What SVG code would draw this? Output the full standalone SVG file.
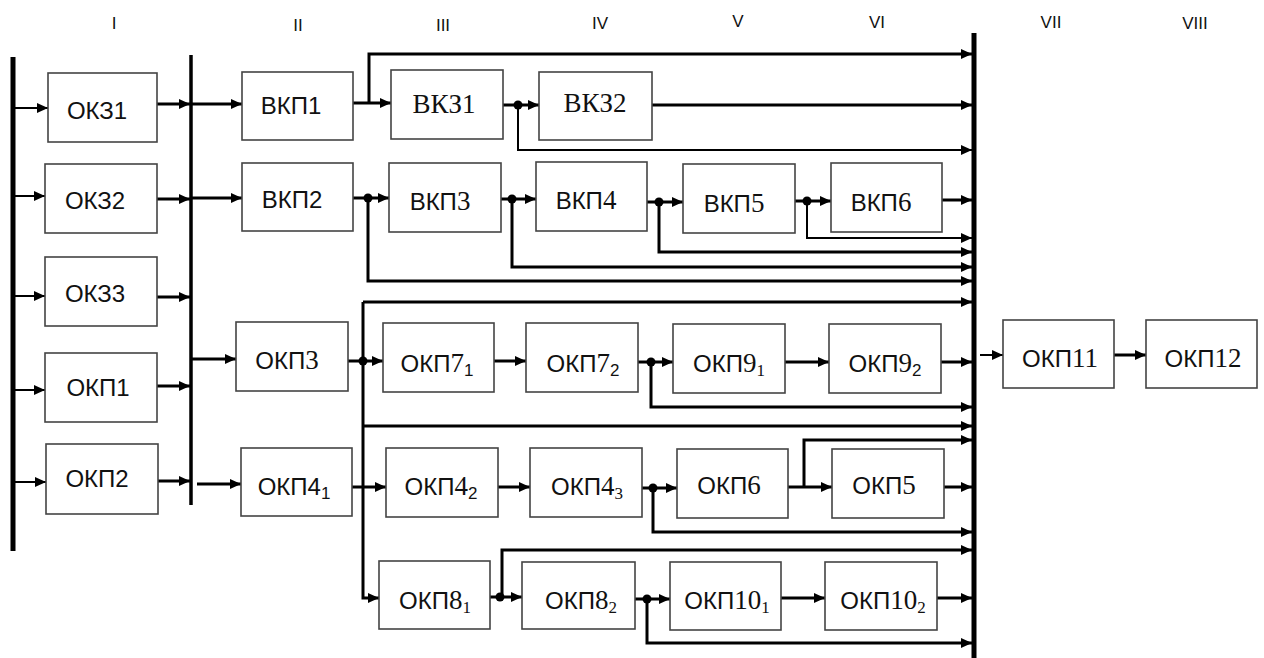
<svg xmlns="http://www.w3.org/2000/svg" width="1264" height="658" viewBox="0 0 1264 658">
<style>
.bx{fill:#fff;stroke:#444;stroke-width:1.6}
.t{font-family:"Liberation Sans",Arial,sans-serif;font-size:24px;fill:#111;text-anchor:middle}
.s{font-family:"Liberation Serif","Times New Roman",serif;font-size:27px}
.sub{font-size:17px}
.rn{font-family:"Liberation Sans",Arial,sans-serif;font-size:17px;fill:#111;text-anchor:middle}
.c{fill:none;stroke:#000;stroke-width:3;marker-end:url(#ah)}
.ct{fill:none;stroke:#000;stroke-width:2;marker-end:url(#ah)}
.bus{stroke:#000;fill:none}
.d{fill:#000}
</style>
<defs>
<marker id="ah" markerUnits="userSpaceOnUse" markerWidth="12" markerHeight="10" refX="11" refY="5" orient="auto">
<path d="M0,0 L11,5 L0,10 z" fill="#000"/>
</marker>
</defs>
<rect width="1264" height="658" fill="#fff"/>
<g id="numerals">
<text class="rn" x="114" y="29">I</text>
<text class="rn" x="298" y="31">II</text>
<text class="rn" x="443" y="31">III</text>
<text class="rn" x="600" y="29">IV</text>
<text class="rn" x="738" y="27">V</text>
<text class="rn" x="877" y="28">VI</text>
<text class="rn" x="1051" y="28">VII</text>
<text class="rn" x="1195" y="29">VIII</text>
</g>
<g id="connectors">
<line class="bus" x1="13" y1="57" x2="13" y2="551" stroke-width="5"/>
<line class="bus" x1="191" y1="55" x2="191" y2="505" stroke-width="3.5"/>
<line class="bus" x1="974" y1="33" x2="974" y2="658" stroke-width="5"/>
<path class="ct" d="M13 108H48"/>
<path class="ct" d="M13 196H45"/>
<path class="ct" d="M13 296H45"/>
<path class="ct" d="M13 390H45"/>
<path class="ct" d="M13 482H46"/>
<path class="c" d="M157 104H190"/>
<path class="c" d="M157 199H190"/>
<path class="c" d="M157 297H190"/>
<path class="c" d="M157 386H190"/>
<path class="c" d="M158 481H190"/>
<path class="c" d="M191 104H242"/>
<path class="c" d="M191 198H242"/>
<path class="c" d="M191 359H236"/>
<path class="c" d="M197 484H241"/>
<path class="c" d="M353 103H391"/>
<path class="c" d="M369 103V54H972"/>
<path class="c" d="M503 105H539"/>
<path class="ct" d="M518 105V150H972"/>
<path class="c" d="M652 105H972"/>
<path class="c" d="M353 198H389"/>
<path class="c" d="M368 198V281H972"/>
<path class="c" d="M501 199H536"/>
<path class="c" d="M512 199V267H972"/>
<path class="c" d="M647 202H683"/>
<path class="c" d="M659 202V252H972"/>
<path class="c" d="M795 201H831"/>
<path class="ct" d="M807 201V238H972"/>
<path class="c" d="M942 200H972"/>
<path class="c" d="M363 302V598H379"/>
<path class="c" d="M363 302H972"/>
<path class="c" d="M363 426H972"/>
<path class="c" d="M348 361H383"/>
<path class="c" d="M494 361H526"/>
<path class="c" d="M638 362H673"/>
<path class="c" d="M651 362V407H972"/>
<path class="c" d="M785 362H829"/>
<path class="c" d="M941 362H972"/>
<path class="c" d="M352 487H386"/>
<path class="c" d="M498 487H530"/>
<path class="c" d="M642 488H677"/>
<path class="c" d="M653 488V532H972"/>
<path class="c" d="M788 487H832"/>
<path class="c" d="M804 487V440H972"/>
<path class="c" d="M944 487H972"/>
<path class="c" d="M490 597H522"/>
<path class="c" d="M502 597V550H972"/>
<path class="c" d="M635 599H670"/>
<path class="c" d="M647 599V643H972"/>
<path class="c" d="M781 598H825"/>
<path class="c" d="M937 598H972"/>
<path class="ct" d="M980 355H1003"/>
<path class="c" d="M1114 355H1146"/>
<circle class="d" cx="518" cy="105" r="4.5"/>
<circle class="d" cx="368" cy="198" r="4.5"/>
<circle class="d" cx="512" cy="199" r="4.5"/>
<circle class="d" cx="659" cy="202" r="4.5"/>
<circle class="d" cx="807" cy="201" r="4.5"/>
<circle class="d" cx="363" cy="361" r="4.5"/>
<circle class="d" cx="651" cy="362" r="4.5"/>
<circle class="d" cx="653" cy="488" r="4.5"/>
<circle class="d" cx="500" cy="597" r="4.5"/>
<circle class="d" cx="647" cy="599" r="4.5"/>
</g>
<g id="OKZ1"><rect class="bx" x="48" y="73" width="109" height="69"/><text class="t" x="97" y="119">ОКЗ1</text></g>
<g id="OKZ2"><rect class="bx" x="45" y="164" width="112" height="69"/><text class="t" x="95" y="209">ОКЗ2</text></g>
<g id="OKZ3"><rect class="bx" x="45" y="257" width="112" height="69"/><text class="t" x="95" y="302">ОКЗ3</text></g>
<g id="OKP1"><rect class="bx" x="45" y="353" width="112" height="69"/><text class="t" x="98" y="396">ОКП1</text></g>
<g id="OKP2"><rect class="bx" x="46" y="444" width="112" height="70"/><text class="t" x="97" y="487">ОКП2</text></g>
<g id="VKP1"><rect class="bx" x="242" y="72" width="111" height="68"/><text class="t" x="291" y="114">ВКП1</text></g>
<g id="VKP2"><rect class="bx" x="242" y="163" width="111" height="68"/><text class="t" x="292" y="208">ВКП2</text></g>
<g id="VKZ1"><rect class="bx" x="391" y="70" width="112" height="69"/><text class="t s" x="444" y="113">ВКЗ1</text></g>
<g id="VKZ2"><rect class="bx" x="539" y="72" width="113" height="68"/><text class="t s" x="595" y="112">ВКЗ2</text></g>
<g id="VKP3"><rect class="bx" x="389" y="163" width="112" height="69"/><text class="t" x="440" y="210">ВКП<tspan class="s">3</tspan></text></g>
<g id="VKP4"><rect class="bx" x="536" y="162" width="111" height="69"/><text class="t" x="586" y="209">ВКП<tspan class="s">4</tspan></text></g>
<g id="VKP5"><rect class="bx" x="683" y="164" width="112" height="69"/><text class="t" x="734" y="212">ВКП<tspan class="s">5</tspan></text></g>
<g id="VKP6"><rect class="bx" x="831" y="163" width="111" height="69"/><text class="t" x="881" y="211">ВКП<tspan class="s">6</tspan></text></g>
<g id="OKP3"><rect class="bx" x="236" y="322" width="112" height="69"/><text class="t" x="287" y="369">ОКП<tspan class="s">3</tspan></text></g>
<g id="OKP4_1"><rect class="bx" x="241" y="448" width="111" height="68"/><text class="t" x="294" y="495">ОКП4<tspan class="sub" dy="4">1</tspan></text></g>
<g id="OKP7_1"><rect class="bx" x="383" y="323" width="111" height="69"/><text class="t" x="437" y="372">ОКП<tspan class="s">7</tspan><tspan class="sub" dy="4">1</tspan></text></g>
<g id="OKP7_2"><rect class="bx" x="526" y="323" width="112" height="69"/><text class="t" x="583" y="372">ОКП<tspan class="s">7</tspan><tspan class="sub" dy="4">2</tspan></text></g>
<g id="OKP9_1"><rect class="bx" x="673" y="324" width="112" height="69"/><text class="t" x="729" y="372">ОКП<tspan class="s">9</tspan><tspan class="sub s" dy="4">1</tspan></text></g>
<g id="OKP9_2"><rect class="bx" x="829" y="324" width="112" height="69"/><text class="t" x="885" y="372">ОКП<tspan class="s">9</tspan><tspan class="sub" dy="4">2</tspan></text></g>
<g id="OKP4_2"><rect class="bx" x="386" y="448" width="112" height="69"/><text class="t" x="441" y="495">ОКП<tspan class="s">4</tspan><tspan class="sub" dy="4">2</tspan></text></g>
<g id="OKP4_3"><rect class="bx" x="530" y="448" width="112" height="69"/><text class="t" x="587" y="495">ОКП<tspan class="s">4</tspan><tspan class="sub s" dy="4">3</tspan></text></g>
<g id="OKP6"><rect class="bx" x="677" y="449" width="111" height="69"/><text class="t" x="729" y="494">ОКП<tspan class="s">6</tspan></text></g>
<g id="OKP5"><rect class="bx" x="832" y="449" width="112" height="69"/><text class="t" x="884" y="494">ОКП<tspan class="s">5</tspan></text></g>
<g id="OKP8_1"><rect class="bx" x="379" y="561" width="111" height="68"/><text class="t" x="435" y="609">ОКП<tspan class="s">8</tspan><tspan class="sub s" dy="4">1</tspan></text></g>
<g id="OKP8_2"><rect class="bx" x="522" y="562" width="113" height="67"/><text class="t" x="581" y="609">ОКП<tspan class="s">8</tspan><tspan class="sub s" dy="4">2</tspan></text></g>
<g id="OKP10_1"><rect class="bx" x="670" y="562" width="111" height="68"/><text class="t" x="727" y="609">ОКП<tspan class="s">10</tspan><tspan class="sub s" dy="4">1</tspan></text></g>
<g id="OKP10_2"><rect class="bx" x="825" y="562" width="112" height="68"/><text class="t" x="883" y="609">ОКП<tspan class="s">10</tspan><tspan class="sub s" dy="4">2</tspan></text></g>
<g id="OKP11"><rect class="bx" x="1003" y="320" width="111" height="68"/><text class="t" x="1060" y="367">ОКП<tspan class="s">11</tspan></text></g>
<g id="OKP12"><rect class="bx" x="1146" y="320" width="111" height="68"/><text class="t" x="1203" y="367">ОКП<tspan class="s">12</tspan></text></g>
</svg>
